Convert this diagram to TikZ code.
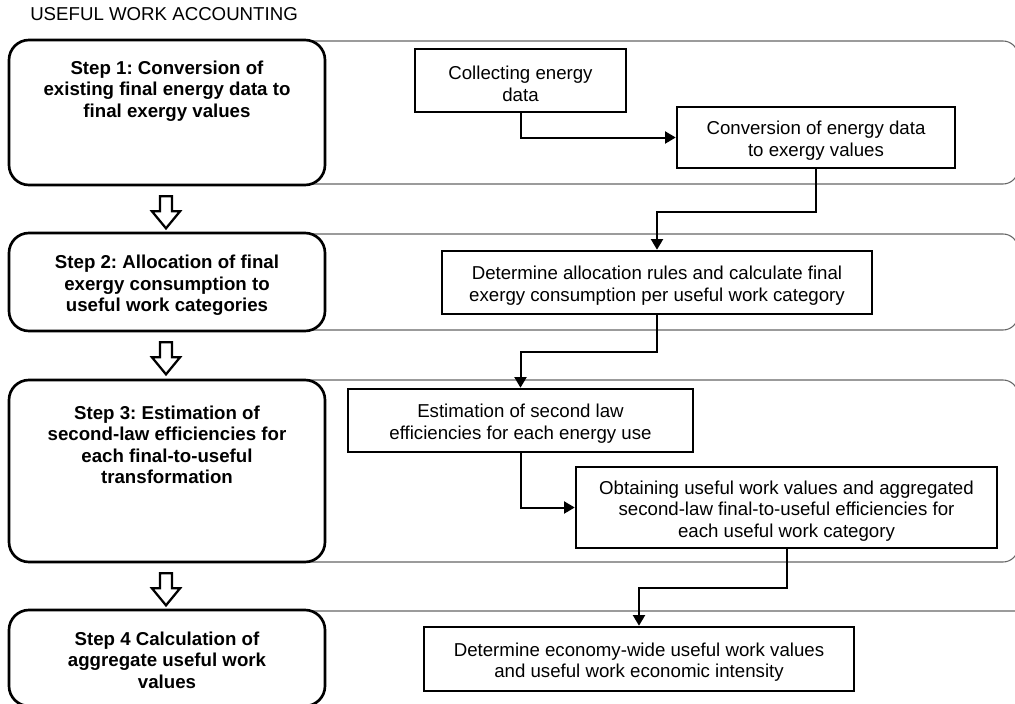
\documentclass[tikz,border=0pt]{standalone}
\usepackage{fontspec}
\setmainfont{Liberation Sans}
\frenchspacing
\usetikzlibrary{arrows.meta,calc}
\newcommand\tstrut{\rule{0pt}{15pt}}
\begin{document}
\begin{tikzpicture}[x=0.75pt,y=-0.75pt,
  lane/.style={draw=black!60, line width=0.8pt, rounded corners=11.25pt},
  stepbox/.style={draw=black, line width=2pt, fill=white, rounded corners=15pt, inner sep=0pt, minimum width=237pt},
  steptext/.style={font=\bfseries\fontsize{14}{16.1}\selectfont, align=center, inner sep=0pt, anchor=north},
  taskbox/.style={draw=black, line width=1.9pt, fill=white, inner sep=0pt, align=center, font=\fontsize{14}{16.1}\selectfont},
  conn/.style={draw=black, line width=1.5pt, -{Triangle[length=8pt,width=9pt]}},
  blockarrow/.style={draw=black, line width=1.7pt, fill=white, line join=miter},
]
\useasboundingbox (0,0) rectangle (1015,704);

% swim lanes
\begin{scope}
\clip (0,0) rectangle (1015,704);
\draw[lane] (150,41) rectangle (1018,184);
\draw[lane] (150,234) rectangle (1018,330);
\draw[lane] (150,380) rectangle (1018,562);
\draw[lane] (150,611) rectangle (1040,760);
\end{scope}

% title
\node[anchor=west, inner sep=0pt, font=\fontsize{14}{16.1}\selectfont] (title) at (30,14) {USEFUL WORK ACCOUNTING};

% step boxes
\node[stepbox, minimum height=108.75pt] (s1) at (167,112.5) {};
\node[stepbox, minimum height=73.5pt] (s2) at (167,282) {};
\node[stepbox, minimum height=136.5pt] (s3) at (167,471) {};
\node[stepbox, minimum height=72pt] (s4) at (167,658) {};

\node[steptext] (t1) at (167,60.4) {Step 1: Conversion of\\existing final energy data to\\final exergy values};
\node[steptext] (t2) at (167,254.9) {Step 2: Allocation of final\\exergy consumption to\\useful work categories};
\node[steptext] (t3) at (167,405.4) {Step 3: Estimation of\\second-law efficiencies for\\each final-to-useful\\transformation};
\node[steptext] (t4) at (167,631.4) {Step 4 Calculation of\\aggregate useful work\\values};

% block arrows between steps
\foreach \a in {s1,s2,s3}{
  \draw[blockarrow] ($(\a.south)+(-7,10)$) -- ++(12,0) -- ++(0,15) -- ++(8,0) -- ++(-14,17) -- ++(-14,-17) -- ++(8,0) -- cycle;
}

% task boxes
\node[taskbox, minimum width=158.25pt, minimum height=47.25pt] (coll) at (520.5,80.5) {\tstrut Collecting energy\\data};
\node[taskbox, minimum width=208.5pt, minimum height=45.75pt] (conv) at (816,137.5) {\tstrut Conversion of energy data\\to exergy values};
\node[taskbox, minimum width=322.5pt, minimum height=47.25pt] (alloc) at (657,282.5) {\tstrut Determine allocation rules and calculate final\\exergy consumption per useful work category};
\node[taskbox, minimum width=258.75pt, minimum height=47.25pt] (est) at (520.5,420.5) {\tstrut Estimation of second law\\efficiencies for each energy use};
\node[taskbox, minimum width=315.75pt, minimum height=60.75pt] (obt) at (786.5,507.5) {\tstrut Obtaining useful work values and aggregated\\second-law final-to-useful efficiencies for\\each useful work category};
\node[taskbox, minimum width=322.5pt, minimum height=48pt] (econ) at (639,659) {\tstrut Determine economy-wide useful work values\\and useful work economic intensity};

% connectors
\draw[conn] (coll.south) |- (conv.west);
\draw[conn] (conv.south) -- ++(0,43) -| (alloc.north);
\draw[conn] (alloc.south) -- ++(0,37) -| (est.north);
\draw[conn] (est.south) |- (obt.west);
\draw[conn] (obt.south) -- ++(0,39) -| (econ.north);
\end{tikzpicture}
\end{document}
